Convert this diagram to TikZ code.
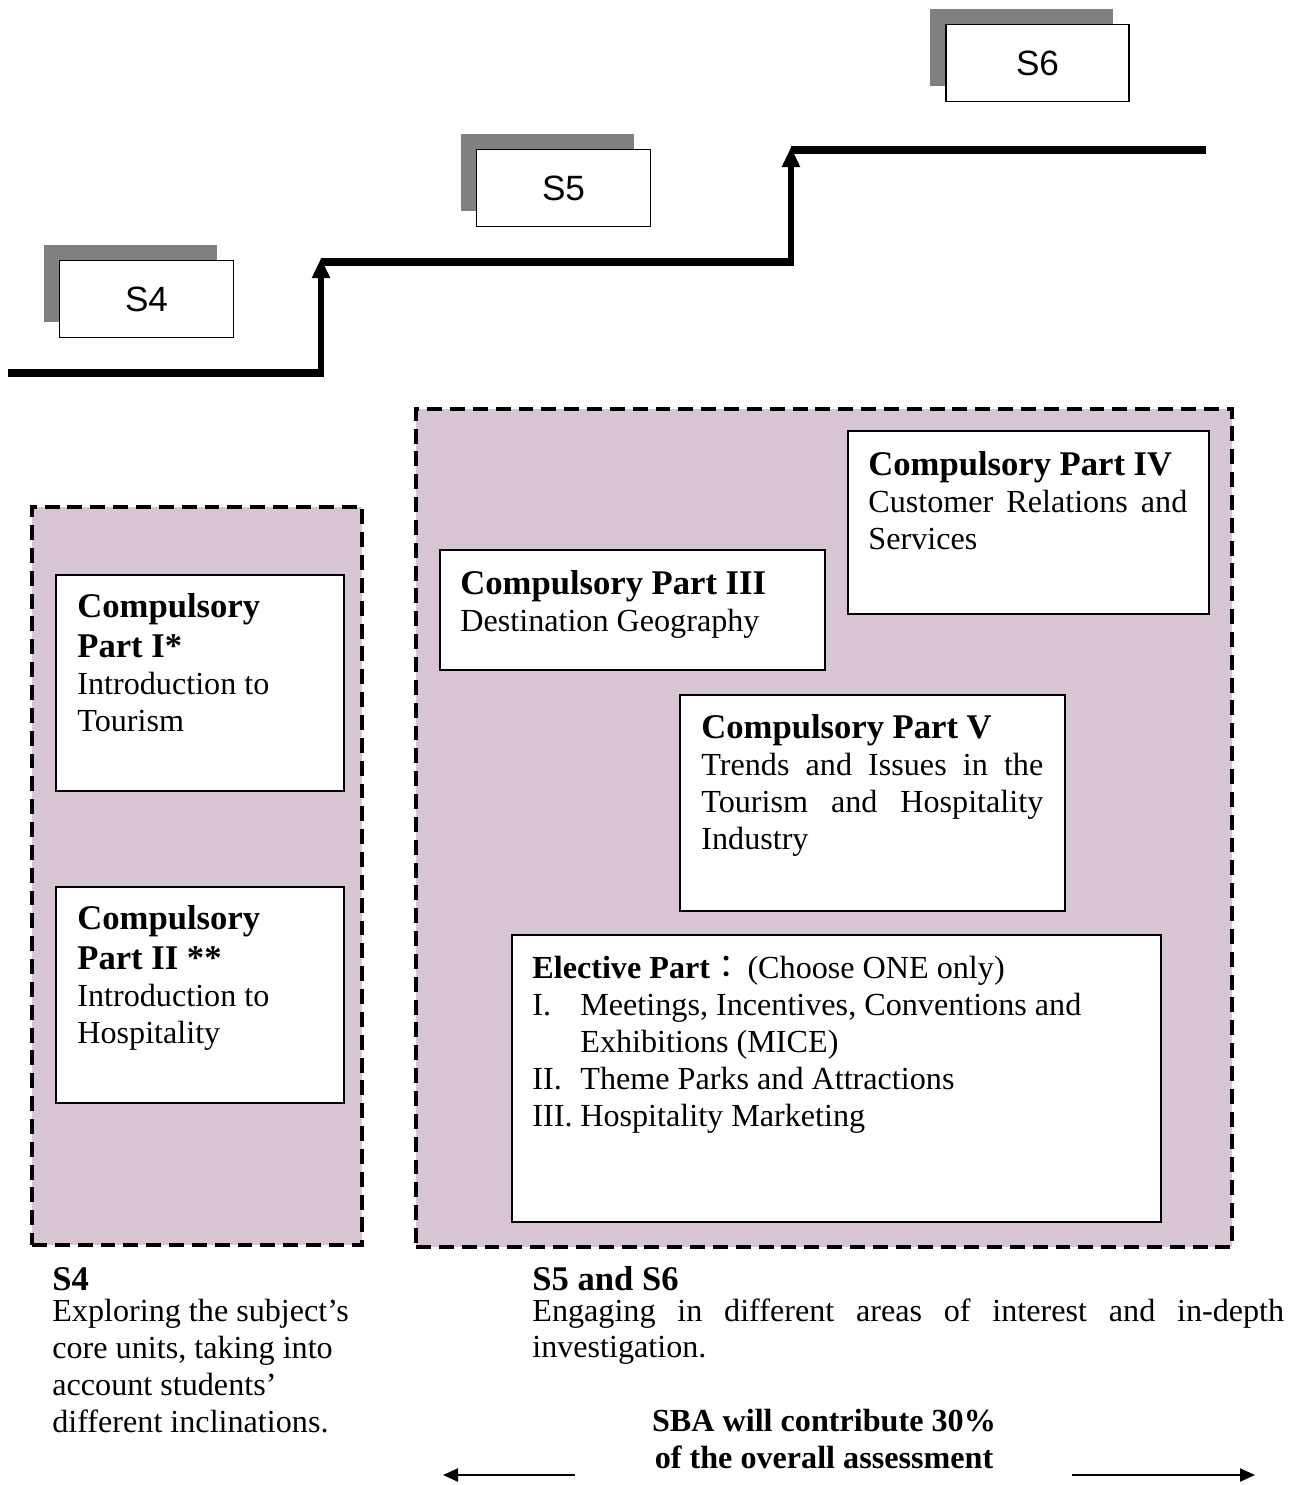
\documentclass[tikz,border=0pt]{standalone}
\usepackage{fontspec}
\setmainfont{Liberation Serif}
\newfontfamily\stagefont{Liberation Sans}
\newfontfamily\cjk{Noto Sans CJK TC}
\usetikzlibrary{arrows.meta, shadows, fit}

\definecolor{mauve}{RGB}{216,197,212}
\definecolor{shadowgray}{RGB}{128,128,128}

\newcommand{\headsize}{\fontsize{19.7}{22.8}\selectfont}
\newcommand{\bodysize}{\fontsize{18.3}{21}\selectfont}

\tikzset{
  stairline/.style={line width=4pt},
  stairstep/.style={line width=3.2pt, -{Triangle[width=0.34cm, length=0.4cm]}},
  stagebox/.style={draw, fill=white, line width=0.9pt, minimum height=1.54cm,
    font=\stagefont\fontsize{20}{24}\selectfont,
    general shadow={fill=shadowgray, shadow xshift=-0.32cm, shadow yshift=0.32cm}},
  stagearea/.style={draw, fill=mauve, line width=1.8pt, dash pattern=on 8.5pt off 4.5pt, inner sep=0pt},
  partbox/.style={draw, fill=white, line width=1.1pt, inner sep=0pt},
  parttext/.style={anchor=north west, inner sep=0pt, align=justify, font=\bodysize},
  steptext/.style={anchor=north west, inner sep=0pt, align=left, font=\bodysize},
  sbaarrow/.style={line width=1.2pt, -{Triangle[width=0.26cm, length=0.3cm]}},
}

\begin{document}
\begin{tikzpicture}[x=0.02cm, y=-0.02cm]
    \useasboundingbox (0, 0) rectangle (1296, 1485);

    % the staircase S4 -> S5 -> S6
    \draw[stairline] (8, 373) coordinate (st0) -- (324, 373) coordinate (st1);
    \draw[stairstep] (321, 376) -- (321, 258) coordinate (st2);
    \draw[stairline] (321, 262) coordinate (st3) -- (794, 262) coordinate (st4);
    \draw[stairstep] (791, 265) -- (791, 147) coordinate (st5);
    \draw[stairline] (791, 150) coordinate (st6) -- (1206, 150) coordinate (st7);

    \node[stagebox, minimum width=3.48cm] (s4) at (146.5, 299) {S4};
    \node[stagebox, minimum width=3.48cm] (s5) at (563.5, 188) {S5};
    \node[stagebox, minimum width=3.66cm] (s6) at (1037.5, 63) {S6};

    % shaded areas
    \node[stagearea, fit={(32, 507) (362, 1245)}] (s4area) {};
    \node[stagearea, fit={(416, 409) (1232, 1247)}] (s56area) {};

    % S4 parts
    \node[partbox, fit={(56, 575) (344, 791)}] (p1box) {};
    \node[parttext, text width=4cm] (p1) at ([shift={(22, 19)}]p1box.north west)
        {{\headsize\bfseries Compulsory\\Part I*\par}Introduction to\\Tourism};

    \node[partbox, fit={(56, 887) (344, 1103)}] (p2box) {};
    \node[parttext, text width=4cm] (p2) at ([shift={(22, 19)}]p2box.north west)
        {{\headsize\bfseries Compulsory\\Part II **\par}Introduction to\\Hospitality};

    % S5 and S6 parts
    \node[partbox, fit={(440, 550) (825, 670)}] (p3box) {};
    \node[parttext, text width=6.86cm] (p3) at ([shift={(21, 21)}]p3box.north west)
        {{\headsize\bfseries Compulsory Part III\par}Destination Geography};

    \node[partbox, fit={(848, 431) (1209, 614)}] (p4box) {};
    \node[parttext, text width=6.38cm] (p4) at ([shift={(21, 21)}]p4box.north west)
        {{\headsize\bfseries Compulsory Part IV\par}Customer Relations and\linebreak Services};

    \node[partbox, fit={(680, 695) (1065, 911)}] (p5box) {};
    \node[parttext, text width=6.84cm] (p5) at ([shift={(22, 20)}]p5box.north west)
        {{\headsize\bfseries Compulsory Part V\par}Trends and Issues in the\linebreak
         Tourism and Hospitality\linebreak Industry};

    \node[partbox, fit={(512, 935) (1161, 1222)}] (ebox) {};
    \node[parttext, text width=12.14cm] (elective) at ([shift={(21, 22)}]ebox.north west)
        {\textbf{Elective Part}{\cjk ：}\,(Choose ONE only)\par\noindent
         \begin{tabular}[t]{@{}p{0.96cm}@{}p{11cm}@{}}
         I.   & Meetings, Incentives, Conventions and\newline Exhibitions (MICE)\\
         II.  & Theme Parks and Attractions\\
         III. & Hospitality Marketing
         \end{tabular}};

    % captions under the areas
    \node[steptext, font=\headsize\bfseries] (s4head) at (52, 1267) {S4};
    \node[steptext] (s4desc) at (52, 1299)
        {Exploring the subject’s\\core units, taking into\\account students’\\different inclinations.};

    \node[steptext, font=\headsize\bfseries] (s56head) at (532, 1266) {S5 and S6};
    \node[parttext, text width=15.04cm] (s56desc) at (532, 1298)
        {Engaging in different areas of interest and in-depth\linebreak investigation.};

    \node[anchor=north, inner sep=0pt, align=center, font=\bodysize\bfseries] (sba) at (824, 1409)
        {SBA will contribute 30\%\\of the overall assessment};

    \coordinate (sbal0) at (575, 1475);
    \coordinate (sbal1) at (443, 1475);
    \coordinate (sbar0) at (1072, 1475);
    \coordinate (sbar1) at (1255, 1475);
    \draw[sbaarrow] (sbal0) -- (sbal1);
    \draw[sbaarrow] (sbar0) -- (sbar1);
\end{tikzpicture}
\end{document}
